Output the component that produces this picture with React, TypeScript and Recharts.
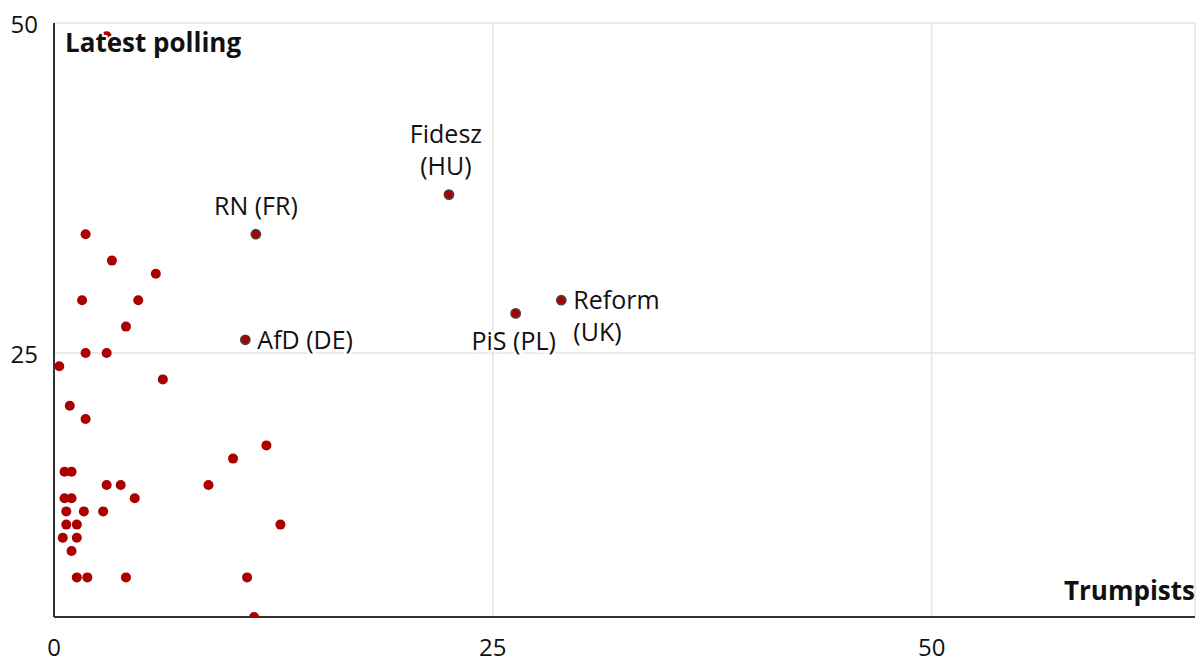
import { ScatterChart, Scatter, XAxis, YAxis, CartesianGrid } from 'recharts';

// all other parties: Trumpist share (x) vs latest polling (y)
const otherTrumpists = [1.8, 3.3, 5.8, 1.6, 4.8, 4.1, 1.8, 3.0, 0.3, 6.2, 0.9, 1.8, 12.1, 10.2, 0.6, 1.0, 3.0, 3.8, 8.8, 0.6, 1.0, 4.6, 0.7, 1.7, 2.8, 0.7, 1.3, 12.9, 0.5, 1.3, 1.0, 1.3, 1.9, 4.1, 11.0, 11.4, 3.0];
const otherPolling = [34, 32, 31, 29, 29, 27, 25, 25, 24, 23, 21, 20, 18, 17, 16, 16, 15, 15, 15, 14, 14, 14, 13, 13, 13, 12, 12, 12, 11, 11, 10, 8, 8, 8, 8, 5, 49];

// labelled parties
const namedParties = ['Fidesz (HU)', 'RN (FR)', 'AfD (DE)', 'PiS (PL)', 'Reform (UK)'];
const namedTrumpists = [22.5, 11.5, 10.9, 26.3, 28.9];
const namedPolling = [37, 34, 26, 28, 29];

const xTicks = [0, 25, 50];
const yTicks = [25, 50];

const RED = '#aa0000';
const FONT = '"Open Sans", sans-serif';

const others = otherTrumpists.map((x, i) => ({ x, y: otherPolling[i] }));
const named = namedParties.map((name, i) => ({ name, x: namedTrumpists[i], y: namedPolling[i] }));

// where each label sits relative to its dot
const placement: Record<string, { dx: number; dy: number[]; anchor: 'start' | 'middle'; split: boolean }> = {
  'Fidesz (HU)': { dx: -3, dy: [-52, -20], anchor: 'middle', split: true },
  'RN (FR)': { dx: 0, dy: [-19], anchor: 'middle', split: false },
  'AfD (DE)': { dx: 12, dy: [9], anchor: 'start', split: false },
  'PiS (PL)': { dx: -2, dy: [37], anchor: 'middle', split: false },
  'Reform (UK)': { dx: 12, dy: [9, 41], anchor: 'start', split: true },
};

const PlainDot = (props: any) => <circle cx={props.cx} cy={props.cy} r={5} fill={RED} />;

const NamedDot = (props: any) => {
  const { cx, cy, payload } = props;
  const p = placement[payload.name];
  const lines = p.split ? payload.name.split(' ') : [payload.name];
  return (
    <g>
      <circle cx={cx} cy={cy} r={4.6} fill={RED} stroke="#444" strokeWidth={1.6} />
      <text
        textAnchor={p.anchor}
        fontSize={25}
        fontFamily={FONT}
        fill="#111"
        stroke="#fff"
        strokeWidth={5}
        strokeLinejoin="round"
        paintOrder="stroke"
      >
        {lines.map((l: string, i: number) => (
          <tspan key={i} x={cx + p.dx} y={cy + p.dy[i]}>{l}</tspan>
        ))}
      </text>
    </g>
  );
};

const YTick = ({ x, y, payload }: any) => (
  <text x={x - 14} y={y} dy={10} textAnchor="end" fontSize={24} fontFamily={FONT} fill="#111">
    {payload.value}
  </text>
);

const XTick = ({ x, y, payload }: any) => (
  <text x={x} y={y + 37} textAnchor="middle" fontSize={24} fontFamily={FONT} fill="#111">
    {payload.value}
  </text>
);

export default function App() {
  return (
    <div style={{ position: 'relative', width: 1202, height: 662, background: '#fff' }}>
      <style>{`body{margin:0}`}</style>
      <ScatterChart width={1202} height={662} margin={{ top: 23, right: 7, left: 0, bottom: 0 }}>
        <CartesianGrid stroke="#e3e3e3" strokeWidth={1.5} />
        <XAxis
          type="number"
          dataKey="x"
          domain={[0, 65]}
          ticks={xTicks}
          height={45}
          tickSize={0}
          tickLine={false}
          axisLine={{ stroke: '#333', strokeWidth: 2 }}
          tick={<XTick />}
          allowDataOverflow
        />
        <YAxis
          type="number"
          dataKey="y"
          domain={[5, 50]}
          ticks={yTicks}
          width={54}
          tickSize={0}
          tickLine={false}
          axisLine={{ stroke: '#333', strokeWidth: 2 }}
          tick={<YTick />}
          allowDataOverflow
        />
        <Scatter data={others} shape={PlainDot} isAnimationActive={false} />
        <Scatter data={named} shape={NamedDot} isAnimationActive={false} />
      </ScatterChart>
      <svg width={1202} height={662} style={{ position: 'absolute', left: 0, top: 0, pointerEvents: 'none' }}>
        <text
          x={65}
          y={52}
          fontSize={26}
          fontWeight={700}
          fontFamily={FONT}
          fill="#111"
          stroke="#fff"
          strokeWidth={4}
          strokeLinejoin="round"
          paintOrder="stroke"
        >
          Latest polling
        </text>
        <text x={1195} y={600} textAnchor="end" fontSize={26} fontWeight={700} fontFamily={FONT} fill="#111">
          Trumpists
        </text>
      </svg>
    </div>
  );
}
